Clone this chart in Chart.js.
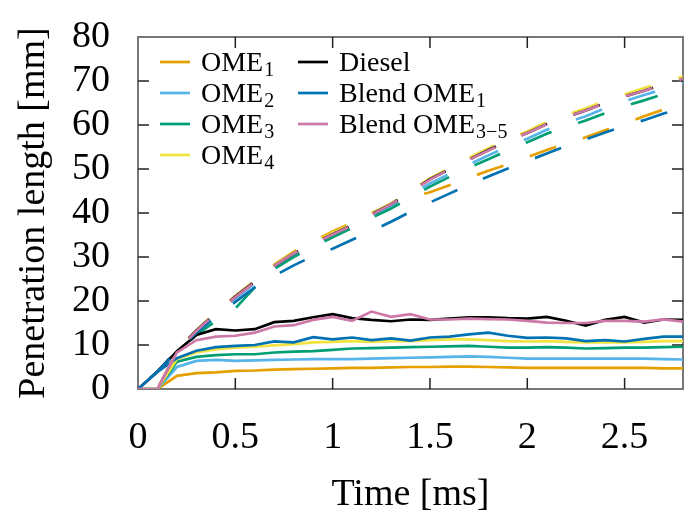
<!DOCTYPE html>
<html>
<head>
<meta charset="utf-8">
<script src="https://cdn.jsdelivr.net/npm/chart.js@4"></script>
<style>
  body { margin: 0; background: #fff; }
  #wrap { width: 691px; height: 521px; }
</style>
</head>
<body>
<div id="wrap"><canvas id="chart" width="691" height="521"></canvas></div>
<script>
// time axis [ms]
const time = [0, 0.1, 0.2, 0.3, 0.4, 0.5, 0.6, 0.7, 0.8, 0.9, 1.0, 1.1, 1.2, 1.3, 1.4,
  1.5, 1.6, 1.7, 1.8, 1.9, 2.0, 2.1, 2.2, 2.3, 2.4, 2.5, 2.6, 2.7, 2.8];
const xTicks = [0, 0.5, 1, 1.5, 2, 2.5];
const yTicks = [0, 10, 20, 30, 40, 50, 60, 70, 80];

// legend names (main text, subscript)
const names = [['OME', '1'], ['OME', '2'], ['OME', '3'], ['OME', '4'],
  ['Diesel', ''], ['Blend OME', '1'], ['Blend OME', '3\u22125']];
const colors = ['#E69F00', '#56B4E9', '#009E73', '#F0E442', '#000000', '#0072B2', '#CC79A7'];

// liquid length (solid)
const liquidOME1 = [0, 0, 3.0, 3.6, 3.8, 4.1, 4.2, 4.4, 4.5, 4.6, 4.7, 4.8, 4.8, 4.9, 5.0,
  5.0, 5.1, 5.1, 5.0, 4.9, 4.8, 4.8, 4.8, 4.8, 4.8, 4.8, 4.8, 4.7, 4.7];
const liquidOME2 = [0, 0, 5.0, 6.4, 6.6, 6.4, 6.5, 6.6, 6.7, 6.8, 6.8, 6.8, 6.9, 7.0, 7.1,
  7.2, 7.3, 7.4, 7.3, 7.1, 6.9, 6.9, 6.9, 6.9, 6.9, 6.9, 6.9, 6.8, 6.7];
const liquidOME3 = [0, 0, 6.2, 7.3, 7.7, 7.9, 7.9, 8.3, 8.5, 8.6, 8.9, 9.2, 9.3, 9.4, 9.5,
  9.6, 9.7, 9.8, 9.6, 9.4, 9.4, 9.5, 9.4, 9.2, 9.3, 9.4, 9.4, 9.5, 9.6];
const liquidOME4 = [0, 0, 6.8, 8.3, 9.0, 9.4, 9.6, 9.9, 10.2, 10.6, 10.7, 10.9, 10.7, 10.9, 10.9,
  11.1, 11.3, 11.3, 11.1, 10.9, 10.8, 10.9, 10.7, 10.6, 10.6, 10.6, 10.7, 10.9, 10.9];
const liquidDiesel = [0, 3.9, 8.6, 12.3, 13.6, 13.3, 13.6, 15.2, 15.5, 16.3, 17.0, 16.1, 15.7, 15.4, 15.8,
  15.7, 16.0, 16.3, 16.3, 16.1, 16.0, 16.4, 15.5, 14.4, 15.7, 16.4, 15.1, 15.8, 15.7];
const liquidBlend1 = [0, 3.9, 7.0, 8.7, 9.5, 9.8, 10.0, 10.8, 10.6, 11.8, 11.3, 11.7, 11.1, 11.5, 11.0,
  11.7, 11.9, 12.4, 12.8, 12.1, 11.6, 11.7, 11.5, 10.9, 11.1, 10.8, 11.4, 11.9, 11.9];
const liquidBlend35 = [0, 0, 8.3, 11.1, 11.9, 12.1, 12.8, 14.2, 14.5, 15.7, 16.4, 15.5, 17.6, 16.4, 17.0,
  15.8, 15.8, 16.0, 15.9, 15.8, 15.5, 15.1, 15.0, 15.0, 15.5, 15.5, 15.3, 15.8, 15.3];

// vapour length (dashed)
const vaporOME1 = [0, 0, 8.6, 13.3, 17.4, 21.1, 24.6, 28.3, 31.2, 33.6, 35.8, 37.8, 40.0, 42.0, 43.6,
  44.7, 46.3, 48.0, 49.6, 51.1, 52.7, 54.3, 55.8, 57.2, 58.8, 60.3, 62.0, 63.5, 64.8];
const vaporOME2 = [0, 0, 8.5, 13.1, 17.0, 20.6, 24.0, 27.6, 30.4, 32.6, 34.7, 36.8, 39.1, 41.3, 44.0,
  46.7, 48.9, 51.0, 53.1, 55.1, 56.9, 58.9, 60.5, 62.0, 63.8, 65.4, 66.8, 68.2, 69.5];
const vaporOME3 = [0, 0, 8.0, 12.3, 15.5, 18.3, 23.1, 27.3, 30.0, 32.3, 34.5, 36.6, 38.9, 41.0, 43.5,
  46.0, 48.2, 50.3, 52.2, 54.2, 56.1, 58.0, 59.6, 61.0, 62.7, 64.3, 65.6, 67.0, 68.3];
const vaporOME4 = [0, 0, 8.6, 13.3, 17.4, 21.0, 24.6, 28.2, 31.0, 33.3, 35.5, 37.5, 39.9, 42.2, 45.0,
  47.9, 50.2, 52.5, 54.7, 56.8, 58.6, 60.7, 62.3, 63.8, 65.5, 67.0, 68.4, 69.7, 71.0];
const vaporDiesel = [0, 4.0, 8.8, 13.3, 17.3, 21.0, 24.4, 28.0, 30.8, 33.0, 35.2, 37.3, 39.7, 42.0, 44.8,
  47.7, 49.9, 52.1, 54.3, 56.4, 58.2, 60.2, 61.8, 63.3, 65.0, 66.5, 67.8, 69.2, 70.5];
const vaporBlend1 = [0, 4.0, 8.6, 12.8, 16.5, 19.8, 23.1, 25.7, 28.1, 30.2, 31.9, 33.9, 35.9, 38.0, 40.3,
  42.4, 44.4, 46.4, 48.3, 50.1, 51.8, 53.5, 55.2, 56.7, 58.3, 59.8, 61.1, 62.6, 63.9];
const vaporBlend35 = [0, 0, 8.6, 13.2, 17.2, 20.9, 24.3, 28.0, 30.8, 33.0, 35.1, 37.2, 39.6, 42.0, 44.8,
  47.6, 49.9, 52.1, 54.2, 56.3, 58.2, 60.2, 61.8, 63.3, 65.0, 66.5, 67.8, 69.2, 70.5];

const liquid = [liquidOME1, liquidOME2, liquidOME3, liquidOME4, liquidDiesel, liquidBlend1, liquidBlend35];
const vapor = [vaporOME1, vaporOME2, vaporOME3, vaporOME4, vaporDiesel, vaporBlend1, vaporBlend35];
const dashOffsets = [33, 33, 33, 33, 40, 40, 33];

const FONT = "'Liberation Serif', 'DejaVu Serif', serif";

function toXY(arr) {
  return arr.map((v, i) => ({ x: time[i], y: v }));
}

const datasets = [];
for (let i = 0; i < names.length; i++) {
  datasets.push({
    label: names[i].join(''),
    data: toXY(liquid[i]),
    borderColor: colors[i],
    borderWidth: 2.7,
    order: 100 - i
  });
  datasets.push({
    label: names[i].join('') + ' vapour',
    data: toXY(vapor[i]),
    borderColor: colors[i],
    borderWidth: 2.7,
    borderDash: [28, 28],
    borderDashOffset: dashOffsets[i],
    order: 100 - i
  });
}

// pgfplots-like box with inward ticks
const framePlugin = {
  id: 'frame',
  beforeDatasetsDraw(chart) {
    const { ctx, chartArea: a, scales } = chart;
    ctx.save();
    ctx.strokeStyle = '#777';
    ctx.lineWidth = 2;
    ctx.strokeRect(a.left, a.top, a.right - a.left, a.bottom - a.top);
    ctx.strokeStyle = '#222';
    ctx.lineWidth = 1.5;
    const len = 11;
    ctx.beginPath();
    xTicks.forEach(v => {
      const px = scales.x.getPixelForValue(v);
      if (px <= a.left + 1) return;
      ctx.moveTo(px, a.bottom); ctx.lineTo(px, a.bottom - len);
      ctx.moveTo(px, a.top); ctx.lineTo(px, a.top + len);
    });
    yTicks.forEach(v => {
      const py = scales.y.getPixelForValue(v);
      if (py >= a.bottom - 1 || py <= a.top + 1) return;
      ctx.moveTo(a.left, py); ctx.lineTo(a.left + len, py);
      ctx.moveTo(a.right, py); ctx.lineTo(a.right - len, py);
    });
    ctx.stroke();
    ctx.restore();
  }
};

// two-column legend with subscripts
const legendPlugin = {
  id: 'texLegend',
  afterDraw(chart) {
    const ctx = chart.ctx;
    const columns = [[0, 1, 2, 3], [4, 5, 6]];
    const colX = [160, 298];
    const rowY = [62, 93, 124, 155];
    ctx.save();
    columns.forEach((col, c) => {
      col.forEach((idx, r) => {
        const x = colX[c], y = rowY[r];
        ctx.strokeStyle = colors[idx];
        ctx.lineWidth = 2.7;
        ctx.beginPath();
        ctx.moveTo(x, y);
        ctx.lineTo(x + 30, y);
        ctx.stroke();
        ctx.fillStyle = '#000';
        ctx.textBaseline = 'alphabetic';
        ctx.font = '28px ' + FONT;
        const tx = x + 41;
        ctx.fillText(names[idx][0], tx, y + 9);
        if (names[idx][1]) {
          const w = ctx.measureText(names[idx][0]).width;
          ctx.font = '20px ' + FONT;
          ctx.fillText(names[idx][1], tx + w + 1, y + 14);
        }
      });
    });
    ctx.restore();
  }
};

new Chart(document.getElementById('chart'), {
  type: 'line',
  data: { datasets },
  plugins: [framePlugin, legendPlugin],
  options: {
    responsive: false,
    animation: false,
    devicePixelRatio: 1,
    layout: { padding: { top: 37, right: 8, left: 0, bottom: 0 } },
    elements: {
      line: { tension: 0, fill: false },
      point: { radius: 0 }
    },
    plugins: {
      legend: { display: false },
      tooltip: { enabled: false }
    },
    scales: {
      x: {
        type: 'linear',
        min: 0,
        max: 2.8,
        afterBuildTicks: s => { s.ticks = xTicks.map(v => ({ value: v })); },
        afterFit: s => { s.height = 132; s.paddingLeft = 0; s.paddingRight = 0; },
        grid: { display: false, drawTicks: false },
        border: { display: false },
        ticks: {
          autoSkip: false,
          padding: 26,
          color: '#000',
          font: { family: FONT, size: 38 },
          maxRotation: 0,
          callback: v => String(v)
        },
        title: {
          display: true,
          text: 'Time [ms]',
          color: '#000',
          font: { family: FONT, size: 38 },
          padding: { top: 0, bottom: 3 }
        }
      },
      y: {
        min: 0,
        max: 80,
        afterBuildTicks: s => { s.ticks = yTicks.map(v => ({ value: v })); },
        afterFit: s => { s.width = 138; s.paddingTop = 0; s.paddingBottom = 0; },
        grid: { display: false, drawTicks: false },
        border: { display: false },
        ticks: {
          autoSkip: false,
          padding: 28,
          color: '#000',
          font: { family: FONT, size: 38 },
          callback: v => String(v)
        },
        title: {
          display: true,
          text: 'Penetration length [mm]',
          color: '#000',
          font: { family: FONT, size: 38 },
          padding: { top: 11, bottom: 0 }
        }
      }
    }
  }
});
</script>
</body>
</html>
